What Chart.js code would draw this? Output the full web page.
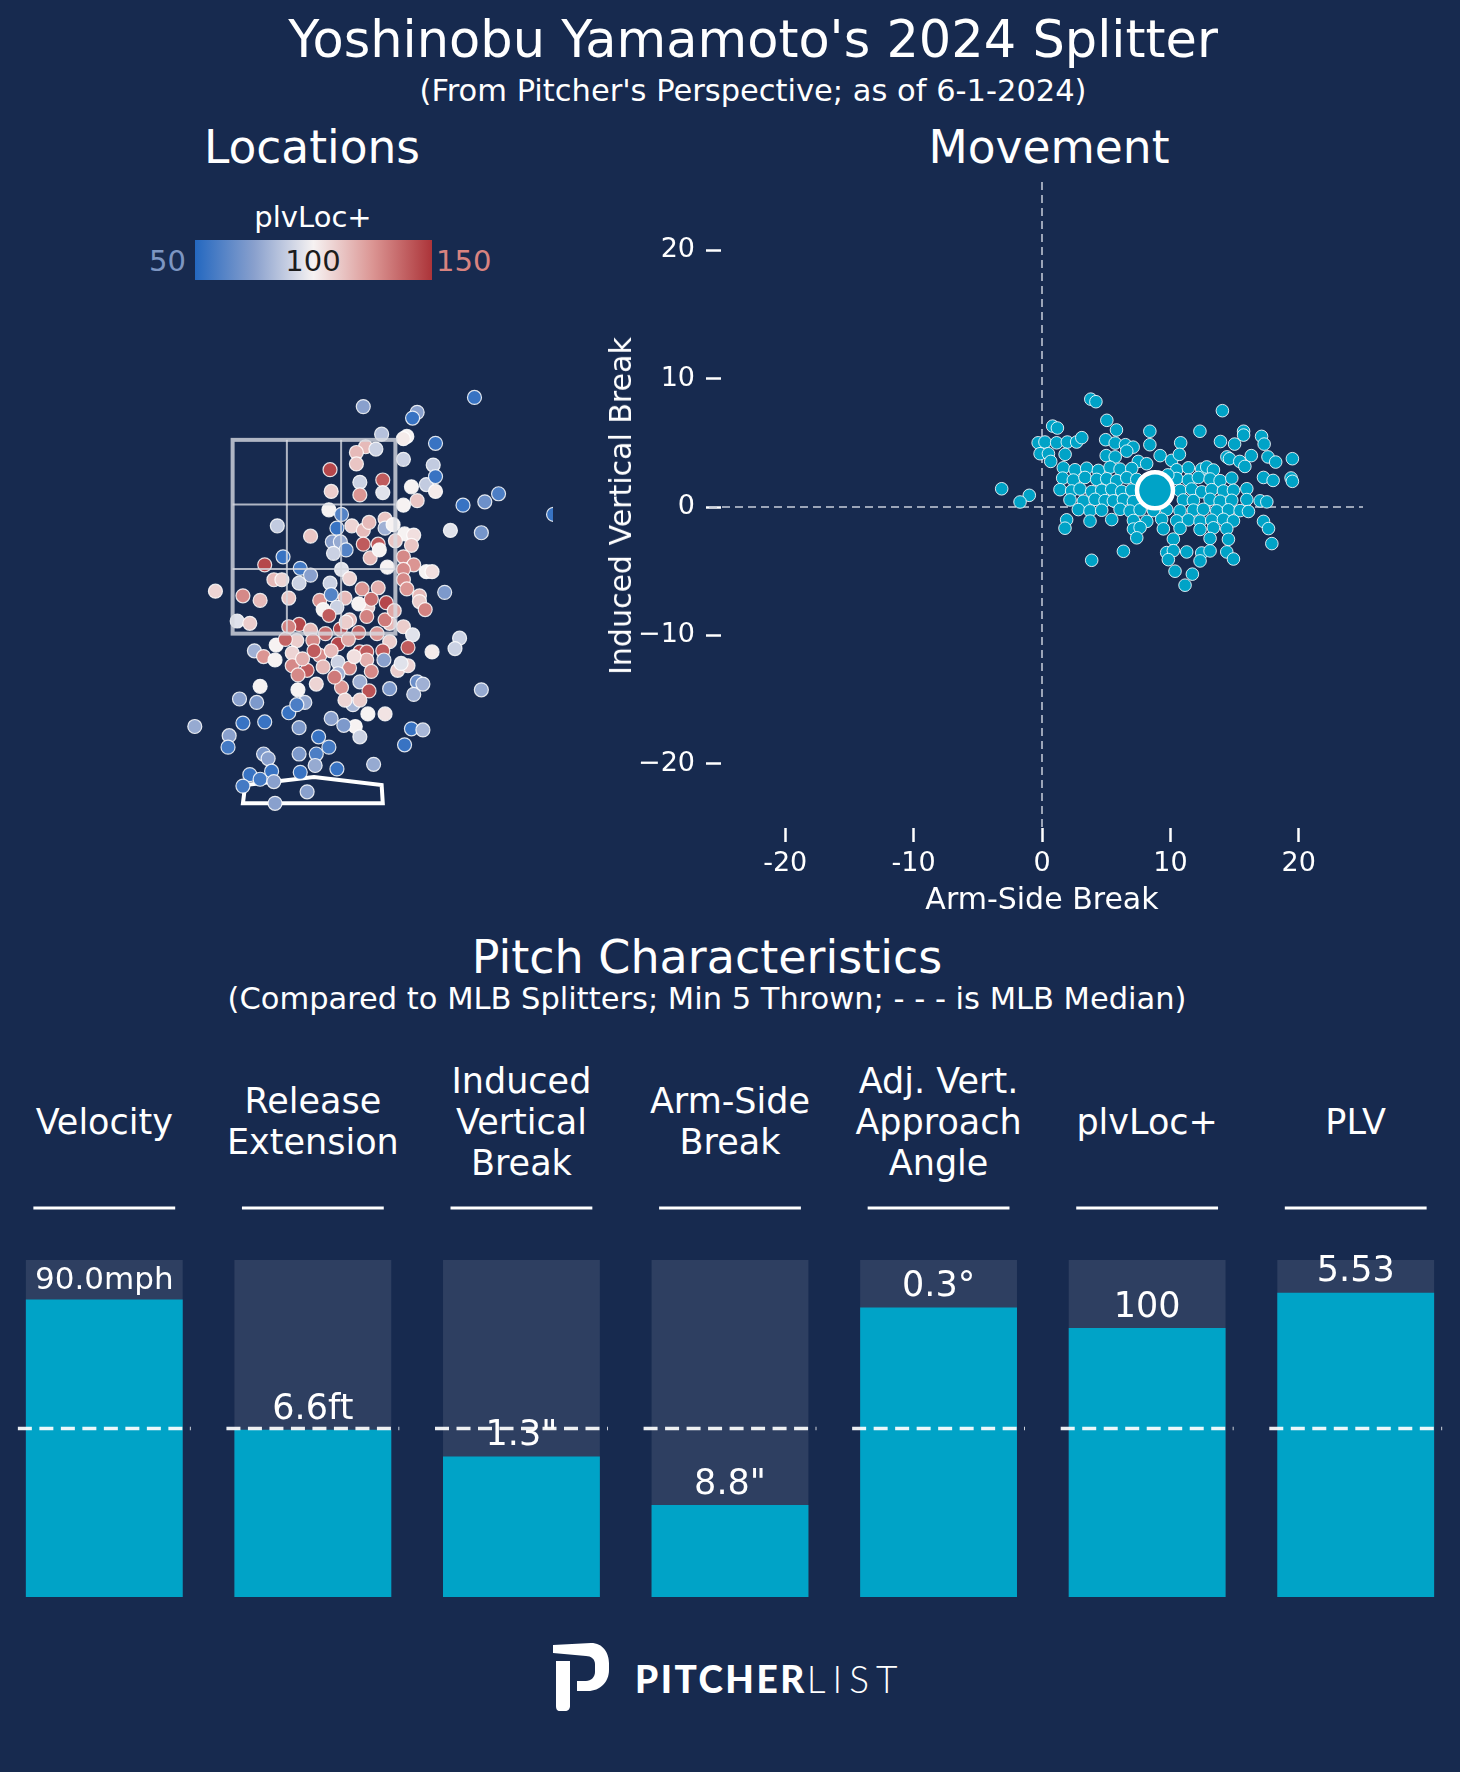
<!DOCTYPE html>
<html>
<head>
<meta charset="utf-8">
<title>Yoshinobu Yamamoto's 2024 Splitter</title>
<script src="https://cdn.jsdelivr.net/npm/chart.js@4.4.1/dist/chart.umd.min.js"></script>
<style>
  html, body { margin: 0; padding: 0; background: #172a4f; }
  #page { position: relative; width: 1460px; height: 1772px; background: #172a4f; overflow: hidden;
          font-family: "DejaVu Sans", sans-serif; color: #ffffff; }
  .t { position: absolute; transform: translate(-50%, -50%); white-space: nowrap; line-height: 1; }
  .hdr { position: absolute; top: 1122px; transform: translate(-50%, -50%); font-size: 35px;
         line-height: 41px; text-align: center; white-space: nowrap; }
  canvas { position: absolute; }
  #cbar { position: absolute; left: 195px; top: 240px; width: 237px; height: 40px; }
  #logo { position: absolute; left: 553px; top: 1643px; }
  #logoText { position: absolute; left: 635px; top: 1678px; transform: translateY(-50%); font-family: Lato, sans-serif;
              font-size: 37px; line-height: 1; white-space: nowrap; }
</style>
</head>
<body>
<div id="page">
  <div class="t" style="left:753px;top:39px;font-size:51px">Yoshinobu Yamamoto's 2024 Splitter</div>
  <div class="t" style="left:753px;top:91px;font-size:30.5px">(From Pitcher's Perspective; as of 6-1-2024)</div>
  <div class="t" style="left:312px;top:148px;font-size:45.5px">Locations</div>
  <div class="t" style="left:1049px;top:148px;font-size:45.5px">Movement</div>

  <div class="t" style="left:313px;top:217px;font-size:29px">plvLoc+</div>
  <div id="cbar"></div>
  <div class="t" style="left:186px;top:261px;font-size:29px;transform:translate(-100%,-50%);color:#7d96c2">50</div>
  <div class="t" style="left:313px;top:261px;font-size:29px;color:#1c1c1c">100</div>
  <div class="t" style="left:436px;top:261px;font-size:29px;transform:translate(0,-50%);color:#d88380">150</div>

  <canvas id="loc" width="478" height="493" style="left:75px;top:347px;width:478px;height:493px"></canvas>
  <canvas id="mov" width="790" height="730" style="left:590px;top:170px;width:790px;height:730px"></canvas>
  <div class="t" style="left:621px;top:506px;font-size:30px;transform:translate(-50%,-50%) rotate(-90deg)">Induced Vertical Break</div>
  <div class="t" style="left:1042px;top:899px;font-size:30px">Arm-Side Break</div>

  <div class="t" style="left:707px;top:957px;font-size:46px">Pitch Characteristics</div>
  <div class="t" style="left:707px;top:999px;font-size:30.5px">(Compared to MLB Splitters; Min 5 Thrown; - - - is MLB Median)</div>

  <canvas id="bars" width="1460" height="397" style="left:0px;top:1200px;width:1460px;height:397px"></canvas>

  <svg id="logo" width="56" height="68" viewBox="0 0 56 68">
    <path fill="#ffffff" d="M0,2 L38,0 C50,0 56,10 56,20 L56,27 C56,39 47,48 35,48 L24,48 L24,38 L33,38 C38,38 42,34 42,29 L42,21 C42,16 38,13 33,13 L0,10 Z"/>
    <path fill="#ffffff" d="M3,18 L17,18 L17,63 C17,66 15,68 12,68 L7,68 C4,68 3,66 3,63 Z"/>
  </svg>
  <div id="logoText"><span style="font-weight:900;letter-spacing:2.5px">PITCHER</span><span style="font-weight:300;letter-spacing:7px">LIST</span></div>
</div>

<script>
// ---- pitch locations (ft, pitcher's view) and plvLoc+ value of each pitch ----
const locX = [
  0.43, 1.40, 0.90, 0.86, 0.59, 0.81, 0.78, 1.06, 0.45, 0.37,
  0.37, 0.54, 0.78, 1.04, 0.14, 0.40, 0.60, 0.60, 0.40, 0.15,
  0.85, 0.98, 1.06, 1.06, 0.90, 0.78, 1.30, 1.49, 1.61, 2.09,
  0.13, 0.24, 0.20, 0.33, 0.43, 0.48, 0.62, 0.62, 0.69, 0.79,
  0.87, 1.19, 1.46, -0.32, -0.03, 0.43, 0.56, 0.71, 0.85, 0.16,
  0.23, 0.28, 0.17, 0.49, 0.57, 0.78, 0.87, 0.64, 0.78, -0.27,
  -0.43, -0.12, -0.03, 0.24, 0.98, 1.03, -0.35, -0.28, -0.13, 0.31,
  0.14, 0.78, 0.81, 1.14, -0.86, -0.62, -0.47, -0.22, 0.05, 0.15,
  0.27, 0.42, 0.56, 0.63, 0.47, 0.39, 0.08, 0.20, 0.92, 0.92,
  0.97, -0.67, -0.56, -0.13, -0.22, -0.03, 0.13, 0.31, 0.46, 0.23,
  0.39, 0.66, 0.78, 0.86, 1.27, 1.23, 1.03, 0.82, 0.66, 0.60,
  0.40, 0.46, 0.21, -0.01, -0.15, -0.33, -0.52, -0.44, -0.34, -0.19,
  0.05, 0.15, 0.21, 0.31, 0.46, 0.61, 0.73, 0.82, 0.76, -0.19,
  -0.06, -0.14, 0.08, 0.21, 0.50, 0.40, 0.48, 0.02, 0.24, -0.14,
  -0.47, -0.65, -0.50, -0.08, -0.22, -0.15, 0.15, 0.34, 0.27, 0.40,
  0.47, 0.62, 0.66, 0.90, 0.87, 1.46, 0.36, 0.40, 0.26, 0.04,
  0.13, 0.02, 0.01, 0.20, 0.52, -0.13, -0.13, -0.43, -0.62, -0.74,
  -0.75, -1.04, -0.44, -0.40, -0.37, -0.56, -0.47, -0.62, -0.35, -0.12,
  -0.06, -0.34, 0.79, 0.85, 0.95, 0.95, 0.10, 0.30, 0.55, 0.35,
  0.00, -0.10, 0.62, 0.70, 0.50, 0.18, -0.25, 0.28
];
const locY = [
  3.48, 3.56, 3.43, 3.38, 3.24, 3.22, 3.20, 3.16, 3.13, 3.08,
  2.98, 3.11, 3.02, 2.97, 2.93, 2.82, 2.84, 2.73, 2.71, 2.74,
  2.78, 2.80, 2.87, 2.74, 2.66, 2.62, 2.62, 2.65, 2.72, 2.54,
  2.58, 2.54, 2.42, 2.44, 2.40, 2.47, 2.50, 2.42, 2.45, 2.37,
  2.36, 2.40, 2.38, 2.44, 2.35, 2.28, 2.28, 2.31, 2.27, 2.30,
  2.30, 2.23, 2.20, 2.16, 2.23, 2.17, 2.10, 2.08, 2.06, 2.17,
  2.10, 2.07, 2.01, 2.06, 2.04, 2.04, 1.97, 1.97, 1.94, 1.98,
  1.94, 1.97, 1.89, 1.86, 1.87, 1.83, 1.79, 1.81, 1.79, 1.84,
  1.81, 1.89, 1.90, 1.77, 1.73, 1.76, 1.71, 1.73, 1.83, 1.78,
  1.71, 1.61, 1.59, 1.58, 1.56, 1.53, 1.66, 1.62, 1.65, 1.54,
  1.51, 1.59, 1.56, 1.49, 1.46, 1.37, 1.34, 1.38, 1.43, 1.35,
  1.34, 1.34, 1.41, 1.44, 1.44, 1.40, 1.35, 1.30, 1.27, 1.33,
  1.31, 1.35, 1.25, 1.20, 1.27, 1.27, 1.18, 1.22, 1.24, 1.22,
  1.18, 1.14, 1.21, 1.15, 1.17, 1.08, 1.00, 1.06, 1.03, 1.01,
  1.04, 0.93, 0.90, 0.90, 0.81, 0.88, 0.76, 0.88, 0.92, 0.92,
  0.80, 0.80, 1.02, 1.08, 0.97, 1.01, 0.69, 0.60, 0.70, 0.60,
  0.51, 0.45, 0.35, 0.32, 0.36, 0.68, 0.45, 0.73, 0.72, 0.61,
  0.51, 0.69, 0.45, 0.41, 0.30, 0.27, 0.23, 0.17, 0.21, 0.29,
  0.12, 0.02, 0.53, 0.67, 0.66, 1.06, 1.50, 1.45, 1.50, 1.30,
  1.35, 1.28, 1.62, 1.70, 1.80, 1.12, 1.45, 1.60
];
const locVal = [
  75, 55, 75, 55, 85, 100, 102, 55, 115, 115,
  112, 90, 90, 88, 145, 90, 140, 95, 125, 110,
  100, 88, 55, 102, 112, 100, 55, 68, 60, 55,
  100, 62, 55, 108, 115, 115, 112, 80, 100, 100,
  105, 95, 70, 88, 112, 140, 140, 112, 112, 75,
  78, 62, 90, 115, 100, 128, 125, 100, 128, 55,
  145, 58, 75, 95, 100, 105, 115, 108, 90, 108,
  90, 128, 125, 72, 108, 128, 115, 112, 125, 62,
  115, 125, 118, 145, 110, 100, 100, 90, 115, 110,
  130, 95, 110, 145, 130, 115, 140, 115, 130, 145,
  138, 115, 110, 95, 90, 90, 102, 140, 110, 140,
  145, 140, 145, 128, 110, 100, 80, 125, 100, 108,
  128, 115, 90, 128, 118, 75, 110, 108, 95, 128,
  140, 128, 115, 80, 128, 80, 142, 108, 125, 100,
  100, 75, 72, 78, 55, 60, 75, 82, 108, 110,
  100, 104, 72, 68, 80, 78, 100, 90, 72, 55,
  58, 60, 78, 55, 78, 72, 72, 55, 55, 75,
  58, 78, 72, 75, 55, 55, 58, 58, 75, 55,
  75, 75, 55, 55, 82, 80, 135, 120, 125, 105,
  140, 118, 132, 120, 135, 132, 138, 110
];

// strike zone (ft) and home plate outline
const zoneX = [-0.71, 0.71];
const zoneY = [1.5, 3.19];
const plateX = [-0.62, -0.60, 0.0, 0.59, 0.60, -0.62];
const plateY = [0.02, 0.18, 0.25, 0.18, 0.02, 0.02];

// ---- movement (inches) ----
const movX = [
  3.8, 4.2, 14.05, 5.05, 5.8, 8.4, 12.3, 0.83, 1.2, 15.7,
  15.7, 17.1, 17.3, 13.9, 15.0, 10.8, 8.4, -0.3, 0.23, 1.14,
  1.97, 2.7, 3.1, 4.96, 5.7, 6.5, 7.1, -0.15, 0.5, 0.68,
  1.8, 9.2, 10.1, 10.7, 14.4, 14.6, 15.4, 15.8, 16.3, 17.6,
  18.2, 19.5, 17.25, 18.0, 19.4, 19.5, 6.6, 7.5, 8.15, 5.0, 5.7,
  1.66, 2.57, 3.48, 4.39, 5.3, 6.08, 6.99, 10.49, 11.4, 12.44, 12.83, 13.35,
  1.61, 2.44, 3.35, 4.26, 5.04, 5.82, 6.6, 7.38, 10.49, 11.4, 12.18, 13.09, 13.87, 14.78,
  1.4, 2.31, 2.96, 3.87, 4.65, 5.43, 6.21, 6.99, 10.75, 11.66, 12.44, 13.22, 14.13, 14.91, 15.95,
  2.18, 3.22, 4.13, 4.91, 5.56, 6.34, 7.12, 11.01, 11.79, 13.09, 13.87, 14.78, 15.95, 16.99, 17.51,
  2.83, 3.74, 4.65, 6.08, 6.86, 7.64, 8.68, 9.71, 10.75, 11.79, 12.57, 13.61, 14.52, 15.43, 16.08,
  1.92, 3.74, 5.43, 7.12, 8.16, 9.32, 10.49, 11.4, 12.31, 13.22, 14.13, 14.91, 17.25,
  1.79, 7.12, 7.64, 9.45, 10.75, 12.31, 13.35, 14.39, 17.64,
  7.38, 10.23, 13.09, 14.52, 17.9,
  6.34, 9.71, 10.23, 11.27, 12.44, 13.09, 14.39,
  3.87, 9.84, 12.31, 14.91,
  10.36, 11.71, 11.14, -3.14, -0.99, -1.71,
  8.0, 9.5, 8.5, 9.8
];
const movY = [
  8.4, 8.2, 7.5, 6.75, 6.0, 5.9, 5.9, 6.3, 6.15, 5.9,
  5.6, 5.5, 4.9, 5.1, 4.9, 5.0, 4.85, 5.0, 5.06, 5.0,
  5.06, 5.06, 5.4, 5.24, 4.98, 4.85, 4.66, 4.15, 4.15, 3.55,
  4.1, 4.0, 3.63, 4.1, 3.9, 3.76, 3.55, 3.16, 4.0, 3.9,
  3.5, 3.76, 2.3, 2.07, 2.26, 2.0, 4.35, 3.55, 3.37, 4.0, 3.9,
  3.05, 2.90, 3.02, 2.85, 3.10, 2.95, 3.00, 2.90, 3.05, 2.95, 3.12, 2.88,
  2.25, 2.10, 2.30, 2.15, 2.20, 2.05, 2.28, 2.15, 2.22, 2.10, 2.30, 2.18, 2.05, 2.25,
  1.35, 1.25, 1.40, 1.20, 1.30, 1.38, 1.22, 1.32, 1.28, 1.40, 1.18, 1.35, 1.25, 1.30, 1.42,
  0.55, 0.45, 0.60, 0.50, 0.48, 0.58, 0.42, 0.55, 0.50, 0.60, 0.45, 0.52, 0.58, 0.48, 0.40,
  -0.20, -0.30, -0.25, -0.18, -0.32, -0.22, -0.28, -0.20, -0.30, -0.24, -0.18, -0.30, -0.22, -0.28, -0.35,
  -1.00, -1.10, -0.98, -1.05, -1.12, -0.95, -1.08, -1.00, -1.10, -1.02, -0.96, -1.08, -1.12,
  -1.65, -1.72, -1.60, -1.70, -1.66, -1.75, -1.62, -1.70, -1.68,
  -2.40, -2.50, -2.45, -2.52, -2.85,
  -3.45, -3.55, -3.40, -3.50, -3.58, -3.42, -3.50,
  -4.15, -4.10, -4.20, -4.05,
  -5.0, -5.23, -6.09, 1.42, 0.91, 0.39,
  2.0, 1.0, 0.5, 2.5
];
const meanArmSide = 8.8;
const meanIVB = 1.3;
const movXTicks = [-20, -10, 0, 10, 20];
const movYTicks = [-20, -10, 0, 10, 20];

// ---- pitch characteristics (percentile vs MLB splitters) ----
const metrics = ['Velocity', 'Release\nExtension', 'Induced\nVertical\nBreak', 'Arm-Side\nBreak',
                 'Adj. Vert.\nApproach\nAngle', 'plvLoc+', 'PLV'];
const pctValues = [88.3, 49.6, 41.7, 27.3, 85.9, 79.8, 90.3];
const valueLabels = ['90.0mph', '6.6ft', '1.3"', '8.8"', '0.3°', '100', '5.53'];
const medianPct = 50;

Chart.defaults.font.family = '"DejaVu Sans", sans-serif';
Chart.defaults.color = '#ffffff';

const TEAL = '#00a3c7';
const TRACK = '#2e3f61';

// diverging blue-white-red colour scale for plvLoc+
const vlagStops = [[0, [36, 104, 192]], [0.25, [137, 160, 205]], [0.5, [246, 242, 242]],
                   [0.75, [219, 149, 147]], [1, [172, 52, 57]]];
function vlagColor(v) {
  const t = Math.max(0, Math.min(1, (v - 50) / 100));
  for (let i = 1; i < vlagStops.length; i++) {
    if (t <= vlagStops[i][0]) {
      const [t0, c0] = vlagStops[i - 1];
      const [t1, c1] = vlagStops[i];
      const f = (t - t0) / (t1 - t0);
      const c = c0.map((a, k) => Math.round(a + (c1[k] - a) * f));
      return `rgb(${c[0]},${c[1]},${c[2]})`;
    }
  }
  return 'rgb(172,52,57)';
}
document.getElementById('cbar').style.background =
  'linear-gradient(to right,' + vlagStops.map(s => vlagColor(50 + s[0] * 100) + ' ' + (s[0] * 100) + '%').join(',') + ')';

const noChrome = { legend: { display: false }, tooltip: { enabled: false } };

// strike zone and plate
const zonePlugin = {
  id: 'zone',
  beforeDatasetsDraw(chart) {
    const { ctx, scales: { x, y } } = chart;
    ctx.save();
    ctx.strokeStyle = '#ffffff';
    ctx.lineWidth = 4;
    ctx.beginPath();
    plateX.forEach((px, i) => {
      const X = x.getPixelForValue(px), Y = y.getPixelForValue(plateY[i]);
      if (i === 0) ctx.moveTo(X, Y); else ctx.lineTo(X, Y);
    });
    ctx.closePath();
    ctx.stroke();
    ctx.restore();
  },
  afterDatasetsDraw(chart) {
    const { ctx, scales: { x, y } } = chart;
    const l = x.getPixelForValue(zoneX[0]), r = x.getPixelForValue(zoneX[1]);
    const b = y.getPixelForValue(zoneY[0]), t = y.getPixelForValue(zoneY[1]);
    ctx.save();
    ctx.strokeStyle = 'rgba(215,218,225,0.8)';
    ctx.lineWidth = 2;
    for (let k = 1; k < 3; k++) {
      const gx = l + (r - l) * k / 3, gy = t + (b - t) * k / 3;
      ctx.beginPath(); ctx.moveTo(gx, t); ctx.lineTo(gx, b); ctx.stroke();
      ctx.beginPath(); ctx.moveTo(l, gy); ctx.lineTo(r, gy); ctx.stroke();
    }
    ctx.lineWidth = 4;
    ctx.strokeRect(l, t, r - l, b - t);
    ctx.restore();
  }
};

new Chart(document.getElementById('loc'), {
  type: 'scatter',
  data: {
    datasets: [{
      data: locX.map((x, i) => ({ x, y: locY[i] })),
      pointRadius: 7,
      pointBorderWidth: 1.2,
      pointBorderColor: 'rgba(255,255,255,0.85)',
      pointBackgroundColor: locVal.map(vlagColor),
      clip: 0
    }]
  },
  options: {
    responsive: false, animation: false, events: [],
    layout: { padding: 0, autoPadding: false },
    plugins: noChrome,
    scales: {
      x: { type: 'linear', min: -2.085, max: 2.085, display: false },
      y: { type: 'linear', min: -0.3, max: 4.0, display: false }
    }
  },
  plugins: [zonePlugin]
});

// dashed zero lines on the movement plot
const zeroLines = {
  id: 'zeroLines',
  beforeDatasetsDraw(chart) {
    const { ctx, chartArea: a, scales: { x, y } } = chart;
    const x0 = x.getPixelForValue(0), y0 = y.getPixelForValue(0);
    ctx.save();
    ctx.strokeStyle = 'rgba(190,196,210,0.8)';
    ctx.lineWidth = 2;
    ctx.setLineDash([8, 5]);
    ctx.beginPath(); ctx.moveTo(a.left - 12, y0); ctx.lineTo(a.right, y0); ctx.stroke();
    ctx.beginPath(); ctx.moveTo(x0, a.top - 4); ctx.lineTo(x0, a.bottom); ctx.stroke();
    ctx.restore();
  }
};

const tickFont = { family: '"DejaVu Sans", sans-serif', size: 27 };
const noScalePadding = s => { s.paddingTop = 0; s.paddingBottom = 0; s.paddingLeft = 0; s.paddingRight = 0; };

new Chart(document.getElementById('mov'), {
  type: 'scatter',
  data: {
    datasets: [
      {
        data: [{ x: meanArmSide, y: meanIVB }],
        pointRadius: 18, pointBorderWidth: 4.5,
        pointBackgroundColor: TEAL, pointBorderColor: '#ffffff',
        order: 0
      },
      {
        data: movX.map((x, i) => ({ x, y: movY[i] })),
        pointRadius: 6.3, pointBorderWidth: 1,
        pointBackgroundColor: TEAL, pointBorderColor: 'rgba(255,255,255,0.85)',
        order: 1
      }
    ]
  },
  options: {
    responsive: false, animation: false, events: [],
    layout: { padding: { top: 16, right: 17, left: 0, bottom: 0 }, autoPadding: false },
    plugins: noChrome,
    scales: {
      x: {
        type: 'linear', min: -25, max: 25,
        afterBuildTicks: a => { a.ticks = movXTicks.map(v => ({ value: v })); },
        afterFit: s => { s.height = 72; noScalePadding(s); },
        border: { display: false },
        grid: { drawOnChartArea: false, drawTicks: true, tickLength: 14, tickColor: '#ffffff', tickWidth: 2.5 },
        ticks: { color: '#ffffff', font: tickFont, padding: 6, maxRotation: 0, callback: v => String(v) }
      },
      y: {
        type: 'linear', min: -25, max: 25,
        afterBuildTicks: a => { a.ticks = movYTicks.map(v => ({ value: v })); },
        afterFit: s => { s.width = 131; noScalePadding(s); },
        border: { display: false },
        grid: { drawOnChartArea: false, drawTicks: true, tickLength: 15, tickColor: '#ffffff', tickWidth: 2.5 },
        ticks: { color: '#ffffff', font: tickFont, padding: 11,
                 callback: v => v < 0 ? '\u2212' + Math.abs(v) : String(v) }
      }
    }
  },
  plugins: [zeroLines]
});

// underlines, median dashes and value labels for the bars
const barExtras = {
  id: 'barExtras',
  afterDatasetsDraw(chart) {
    const { ctx, chartArea: a, scales: { x, y } } = chart;
    const catW = x.getPixelForValue(1) - x.getPixelForValue(0);
    const barW = catW * 0.752;
    const medY = y.getPixelForValue(medianPct);
    ctx.save();
    ctx.strokeStyle = '#ffffff';
    ctx.lineWidth = 3;
    metrics.forEach((m, i) => {
      const cx = x.getPixelForValue(i);
      ctx.beginPath();
      ctx.moveTo(cx - catW * 0.34, a.top - 52);
      ctx.lineTo(cx + catW * 0.34, a.top - 52);
      ctx.stroke();
    });
    ctx.setLineDash([14, 7.5]);
    ctx.lineWidth = 3.5;
    ctx.strokeStyle = 'rgba(255,255,255,0.92)';
    metrics.forEach((m, i) => {
      const cx = x.getPixelForValue(i);
      ctx.beginPath();
      ctx.moveTo(cx - barW / 2 - 8, medY);
      ctx.lineTo(cx + barW / 2 + 8, medY);
      ctx.stroke();
    });
    ctx.setLineDash([]);
    ctx.fillStyle = '#ffffff';
    ctx.textAlign = 'center';
    ctx.textBaseline = 'middle';
    pctValues.forEach((v, i) => {
      const size = valueLabels[i].length > 5 ? 31 : 35;
      ctx.font = size + 'px "DejaVu Sans", sans-serif';
      ctx.fillText(valueLabels[i], x.getPixelForValue(i), y.getPixelForValue(v) - size * 0.58);
    });
    ctx.restore();
  }
};

const barChart = new Chart(document.getElementById('bars'), {
  type: 'bar',
  data: {
    labels: metrics,
    datasets: [
      { data: pctValues, backgroundColor: TEAL, barPercentage: 0.752, categoryPercentage: 1, grouped: false, order: 1 },
      { data: metrics.map(() => 100), backgroundColor: TRACK, barPercentage: 0.752, categoryPercentage: 1, grouped: false, order: 2 }
    ]
  },
  options: {
    responsive: false, animation: false, events: [],
    layout: { padding: { top: 60, left: 0, right: 0, bottom: 0 }, autoPadding: false },
    plugins: noChrome,
    scales: {
      x: { display: false },
      y: { display: false, min: 0, max: 100 }
    }
  },
  plugins: [barExtras]
});

// column headers placed over each bar
const page = document.getElementById('page');
const xs = barChart.scales.x;
metrics.forEach((m, i) => {
  const d = document.createElement('div');
  d.className = 'hdr';
  d.style.left = xs.getPixelForValue(i) + 'px';
  d.innerHTML = m.split('\n').join('<br>');
  page.appendChild(d);
});
</script>
</body>
</html>
